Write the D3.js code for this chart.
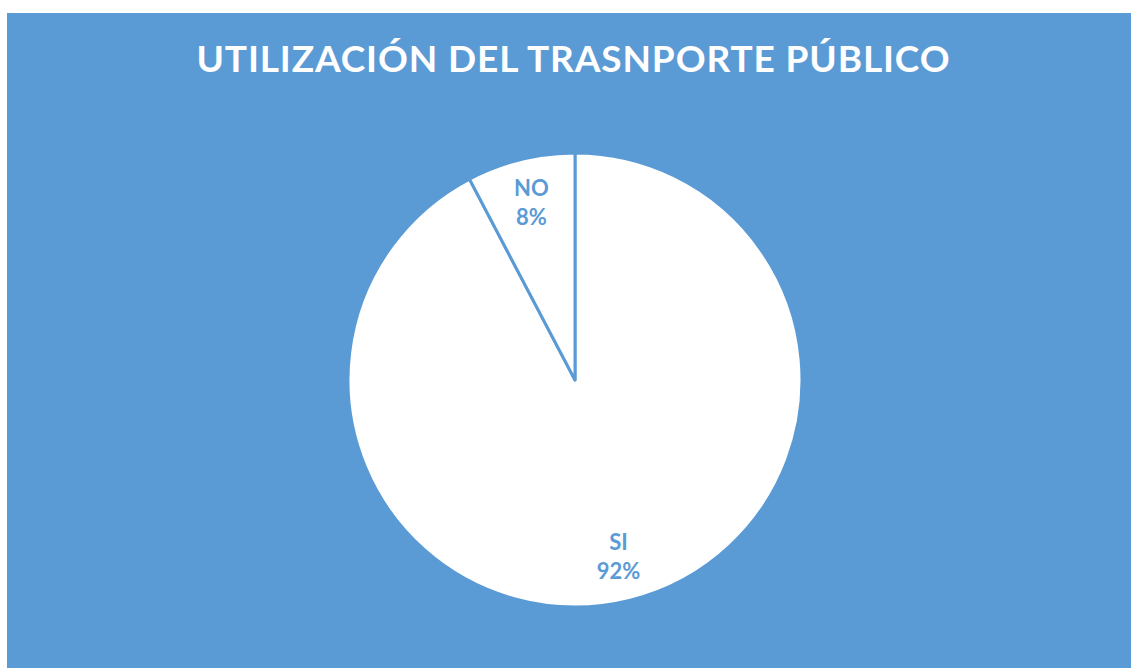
<!DOCTYPE html>
<html>
<head>
<meta charset="utf-8">
<script src="https://cdn.jsdelivr.net/npm/d3@7"></script>
<style>
  html, body { margin: 0; padding: 0; background: #ffffff; }
  svg { display: block; }
</style>
</head>
<body>
<svg id="chart" width="1131" height="668"></svg>
<script>
const title = "UTILIZACIÓN DEL TRASNPORTE PÚBLICO";
const categories = ["SI", "NO"];
const values = [92.3, 7.7];

const W = 1131, H = 668;
const blue = "#5b9bd5";
const svg = d3.select("#chart");

svg.append("rect")
  .attr("x", 7).attr("y", 13)
  .attr("width", W - 7).attr("height", H - 13)
  .attr("fill", blue);

const t = svg.append("text")
  .attr("x", 573).attr("y", 72)
  .attr("text-anchor", "middle")
  .attr("fill", "#ffffff")
  .style("font-family", "Lato, 'Open Sans', sans-serif")
  .style("font-weight", "bold")
  .style("font-size", "37px")
  .style("letter-spacing", "3px")
  .text(title);
// fit title width to reference (~754px)
const tw = t.node().getComputedTextLength();
const target = 754;
const n = title.length;
const extra = (target - tw) / n;
t.style("letter-spacing", (3 + extra) + "px");
t.attr("x", 573 + (3 + extra) / 2);

const cx = 575, cy = 380, R = 227;
const pie = d3.pie().sort(null).value(d => d)(values);
const arc = d3.arc().innerRadius(0).outerRadius(R);
const labelArc = d3.arc().innerRadius(182).outerRadius(182);

const g = svg.append("g").attr("transform", `translate(${cx},${cy})`);
g.selectAll("path.slice")
  .data(pie)
  .enter().append("path")
  .attr("class", "slice")
  .attr("d", arc)
  .attr("fill", "#ffffff")
  .attr("stroke", blue)
  .attr("stroke-width", 3)
  .attr("stroke-linejoin", "round");

const total = d3.sum(values);
const lbl = g.selectAll("g.lbl")
  .data(pie)
  .enter().append("g")
  .attr("class", "lbl")
  .attr("transform", d => { const c = labelArc.centroid(d); return `translate(${c[0]},${c[1]})`; });

lbl.append("text")
  .attr("text-anchor", "middle")
  .attr("y", -7)
  .attr("fill", blue)
  .style("font-family", "Lato, 'Open Sans', sans-serif")
  .style("font-weight", "bold")
  .style("font-size", "22px")
  .text((d, i) => categories[i]);
lbl.append("text")
  .attr("text-anchor", "middle")
  .attr("y", 22)
  .attr("fill", blue)
  .style("font-family", "Lato, 'Open Sans', sans-serif")
  .style("font-weight", "bold")
  .style("font-size", "22px")
  .text(d => Math.round(d.value / total * 100) + "%");
</script>
</body>
</html>
